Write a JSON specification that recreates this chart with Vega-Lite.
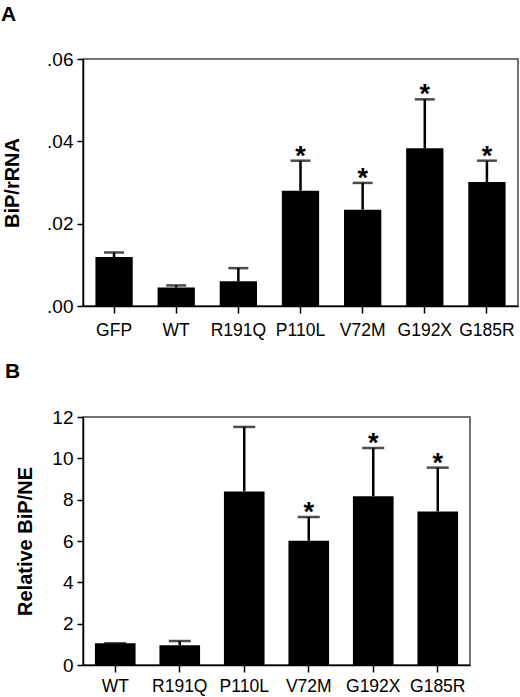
{
  "$schema": "https://vega.github.io/schema/vega-lite/v6.json",
  "padding": {"left": 0, "top": 3, "right": 0, "bottom": 0},
  "bounds": "flush",
  "spacing": 111,
  "config": {
    "font": "Liberation Sans",
    "view": {"stroke": "#444", "strokeWidth": 1.5},
    "axis": {
      "grid": false,
      "domainColor": "#000",
      "domainWidth": 1.5,
      "tickColor": "#000",
      "tickWidth": 1.5,
      "labelColor": "#000",
      "titleColor": "#000",
      "titleFontWeight": "bold",
      "titleFontSize": 20
    },
    "title": {"fontSize": 21, "fontWeight": "bold", "color": "#000"}
  },
  "datasets": {
    "a": [
      {"group": "GFP", "mean": 0.0119, "upper": 0.0130, "sig": false},
      {"group": "WT", "mean": 0.0045, "upper": 0.0050, "sig": false},
      {"group": "R191Q", "mean": 0.0060, "upper": 0.0092, "sig": false},
      {"group": "P110L", "mean": 0.0280, "upper": 0.0353, "sig": true},
      {"group": "V72M", "mean": 0.0234, "upper": 0.0299, "sig": true},
      {"group": "G192X", "mean": 0.0383, "upper": 0.0502, "sig": true},
      {"group": "G185R", "mean": 0.0301, "upper": 0.0353, "sig": true}
    ],
    "b": [
      {"group": "WT", "mean": 1.05, "upper": 1.05, "sig": false},
      {"group": "R191Q", "mean": 0.95, "upper": 1.16, "sig": false},
      {"group": "P110L", "mean": 8.40, "upper": 11.52, "sig": false},
      {"group": "V72M", "mean": 6.01, "upper": 7.16, "sig": true},
      {"group": "G192X", "mean": 8.16, "upper": 10.50, "sig": true},
      {"group": "G185R", "mean": 7.43, "upper": 9.55, "sig": true}
    ]
  },
  "vconcat": [
    {
      "width": 435,
      "height": 247,
      "title": {"text": "A", "anchor": "start", "frame": "group", "dx": -82, "offset": 25},
      "data": {"name": "a"},
      "encoding": {
        "x": {
          "field": "group",
          "type": "nominal",
          "sort": null,
          "title": null,
          "scale": {"paddingInner": 0.4, "paddingOuter": 0.2},
          "axis": {"labelAngle": 0, "labelFontSize": 17.5, "tickSize": 7, "labelPadding": 8}
        }
      },
      "layer": [
        {
          "mark": {"type": "bar", "color": "#000"},
          "encoding": {
            "y": {
              "field": "mean",
              "type": "quantitative",
              "title": "BiP/rRNA",
              "scale": {"domain": [0, 0.06]},
              "axis": {
                "values": [0, 0.02, 0.04, 0.06],
                "labelExpr": "replace(format(datum.value, '.2f'), '0.', '.')",
                "labelFontSize": 19,
                "tickSize": 6,
                "labelPadding": 4,
                "titlePadding": 24
              }
            }
          }
        },
        {
          "mark": {"type": "rule", "color": "#000", "strokeWidth": 2.5},
          "encoding": {
            "y": {"field": "mean", "type": "quantitative", "title": "BiP/rRNA"},
            "y2": {"field": "upper"}
          }
        },
        {
          "mark": {"type": "tick", "color": "#000", "size": 20, "thickness": 2.5},
          "encoding": {"y": {"field": "upper", "type": "quantitative", "title": "BiP/rRNA"}}
        },
        {
          "transform": [{"filter": "datum.sig"}],
          "mark": {"type": "text", "text": "*", "fontSize": 27, "fontWeight": "bold", "baseline": "alphabetic", "dy": 4, "color": "#000"},
          "encoding": {"y": {"field": "upper", "type": "quantitative", "title": "BiP/rRNA"}}
        }
      ]
    },
    {
      "width": 387,
      "height": 248,
      "title": {"text": "B", "anchor": "start", "frame": "group", "dx": -78, "offset": 26},
      "data": {"name": "b"},
      "encoding": {
        "x": {
          "field": "group",
          "type": "nominal",
          "sort": null,
          "title": null,
          "scale": {"paddingInner": 0.37, "paddingOuter": 0.185},
          "axis": {"labelAngle": 0, "labelFontSize": 17.5, "tickSize": 7, "labelPadding": 5}
        }
      },
      "layer": [
        {
          "mark": {"type": "bar", "color": "#000"},
          "encoding": {
            "y": {
              "field": "mean",
              "type": "quantitative",
              "title": "Relative BiP/NE",
              "scale": {"domain": [0, 12]},
              "axis": {
                "values": [0, 2, 4, 6, 8, 10, 12],
                "labelFontSize": 19,
                "tickSize": 6,
                "labelPadding": 4,
                "titlePadding": 16
              }
            }
          }
        },
        {
          "mark": {"type": "rule", "color": "#000", "strokeWidth": 2.5},
          "encoding": {
            "y": {"field": "mean", "type": "quantitative", "title": "Relative BiP/NE"},
            "y2": {"field": "upper"}
          }
        },
        {
          "mark": {"type": "tick", "color": "#000", "size": 22, "thickness": 2.5},
          "encoding": {"y": {"field": "upper", "type": "quantitative", "title": "Relative BiP/NE"}}
        },
        {
          "transform": [{"filter": "datum.sig"}],
          "mark": {"type": "text", "text": "*", "fontSize": 27, "fontWeight": "bold", "baseline": "alphabetic", "dy": 4, "color": "#000"},
          "encoding": {"y": {"field": "upper", "type": "quantitative", "title": "Relative BiP/NE"}}
        }
      ]
    }
  ]
}
